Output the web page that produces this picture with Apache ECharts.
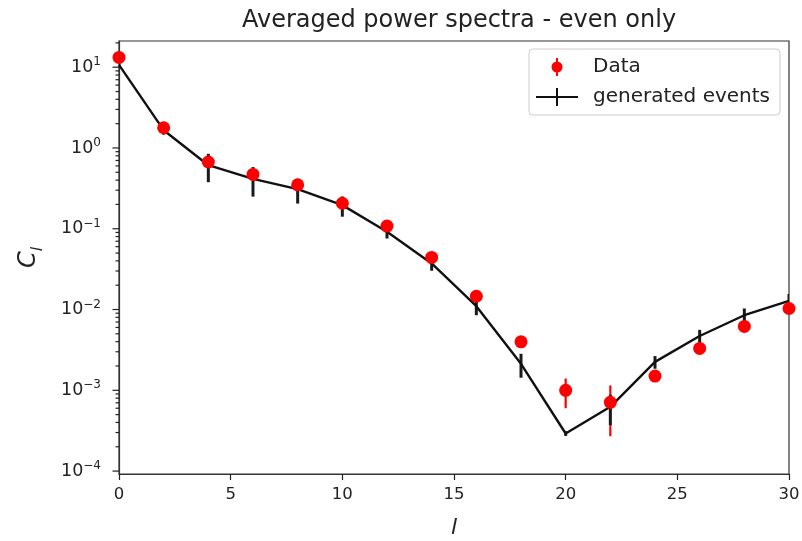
<!DOCTYPE html>
<html><head><meta charset="utf-8">
<script src="https://cdn.jsdelivr.net/npm/echarts@6/dist/echarts.min.js"></script>
<style>html,body{margin:0;padding:0;background:#fff}#c{width:802px;height:541px}</style>
</head><body><div id="c"></div>
<script>
// ---- data ----
const ells = [0, 2, 4, 6, 8, 10, 12, 14, 16, 18, 20, 22, 24, 26, 28, 30];
const dataValues = [13.2, 1.78, 0.67, 0.47, 0.35, 0.207, 0.108, 0.0441, 0.0146, 0.00398, 0.00100, 0.00071, 0.00150, 0.00330, 0.00618, 0.0103];
const dataErrors = [1.2, 0.15, 0.06, 0.04, 0.03, 0.018, 0.009, 0.004, 0.0013, 0.0004, 0.00040, 0.00044, 0.00012, 0.00025, 0.0005, 0.0008];
const genValues = [10.7, 1.66, 0.612, 0.415, 0.31, 0.196, 0.0917, 0.0372, 0.0110, 0.00213, 0.000292, 0.000625, 0.00225, 0.0047, 0.0085, 0.0128];
const genErrors = [0.5, 0.2, 0.235, 0.165, 0.105, 0.055, 0.016, 0.007, 0.0025, 0.0007, 0.00002, 0.000255, 0.0004, 0.0009, 0.0018, 0.0028];
const xTicks = [0, 5, 10, 15, 20, 25, 30];
const yMajorTicks = [1e-4, 1e-3, 1e-2, 1e-1, 1, 10];
const yMantissas = [2, 3, 4, 5, 6, 7, 8, 9];

const Y_MIN = 9.2e-5, Y_MAX = 21.1;
const yMinorTicks = [];
yMajorTicks.forEach(d => yMantissas.forEach(m => { const v = d * m; if (v <= Y_MAX) yMinorTicks.push(v); }));

const FONT = "'DejaVu Sans', sans-serif";
const TXT = '#222';

function errRender(color, width) {
  return function (params, api) {
    const x = api.value(0), lo = api.value(1), hi = api.value(2);
    const p1 = api.coord([x, lo]), p2 = api.coord([x, hi]);
    return { type: 'line', shape: { x1: p1[0], y1: p1[1], x2: p2[0], y2: p2[1] },
      style: { stroke: color, lineWidth: width } };
  };
}
function tickRender(len) {
  return function (params, api) {
    const p = api.coord([0, api.value(0)]);
    return { type: 'line', shape: { x1: p[0] - len, y1: p[1], x2: p[0], y2: p[1] },
      style: { stroke: '#222', lineWidth: 1.2 } };
  };
}

const chart = echarts.init(document.getElementById('c'), null, { renderer: 'canvas' });
chart.setOption({
  backgroundColor: '#fff',
  animation: false,
  title: {
    text: 'Averaged power spectra - even only',
    left: 454, top: 4, textAlign: 'center',
    textStyle: { fontFamily: FONT, fontSize: 24, fontWeight: 'normal', color: TXT }
  },
  legend: {
    left: 529, top: 49, orient: 'vertical',
    itemWidth: 44, itemHeight: 20, itemGap: 10,
    padding: [8, 10, 8, 6],
    backgroundColor: '#fff', borderColor: '#cccccc', borderWidth: 1, borderRadius: 4,
    textStyle: { fontFamily: FONT, fontSize: 20, color: TXT, padding: [0, 0, 0, 9] },
    itemStyle: { borderWidth: 0 },
    data: [
      { name: 'Data', icon: 'path://M0,0L0,0M44,20L44,20M21,1L23,1L23,19L21,19ZM16.5,10A5.5,5.5,0,1,1,27.5,10A5.5,5.5,0,1,1,16.5,10Z' },
      { name: 'generated events', icon: 'path://M0,0L0,0M44,20L44,20M1,9L43,9L43,11L1,11ZM21,1L23,1L23,19L21,19Z' }
    ]
  },
  grid: { left: 119, right: 13, top: 41, bottom: 67, show: true, borderColor: '#333', borderWidth: 1.2,
          containLabel: false, outerBoundsMode: 'none' },
  xAxis: {
    type: 'value', min: 0, max: 30, interval: 5,
    name: 'l', nameLocation: 'middle', nameGap: 43,
    nameTextStyle: { fontFamily: FONT, fontSize: 22, fontStyle: 'italic', color: TXT },
    axisLine: { show: true, lineStyle: { color: '#333', width: 1.2 } },
    axisTick: { show: true, inside: false, length: 6, lineStyle: { color: '#222', width: 1.2 } },
    axisLabel: { fontFamily: FONT, fontSize: 16.5, color: TXT, margin: 12 },
    splitLine: { show: false }
  },
  yAxis: {
    type: 'log', logBase: 10, min: Y_MIN, max: Y_MAX,
    name: '{c|C}{s|l}', nameLocation: 'middle', nameGap: 78, nameRotate: 90,
    nameTextStyle: { fontFamily: FONT, color: TXT,
      rich: { c: { fontFamily: FONT, fontSize: 24, fontStyle: 'italic', color: TXT },
              s: { fontFamily: FONT, fontSize: 16, fontStyle: 'italic', color: TXT, verticalAlign: 'bottom', padding: [0, 0, -5, 0] } } },
    axisLine: { show: true, lineStyle: { color: '#333', width: 1.2 } },
    axisTick: { show: false },
    axisLabel: {
      margin: 18, color: TXT,
      formatter: function (v) {
        const lg = Math.log10(v), e = Math.round(lg);
        if (Math.abs(lg - e) > 1e-6) return '';
        return '{b|10}{s|' + (e < 0 ? '\u2212' + (-e) : e) + '}';
      },
      rich: { b: { fontFamily: FONT, fontSize: 17.5, color: TXT, lineHeight: 22 },
              s: { fontFamily: FONT, fontSize: 12, color: TXT, verticalAlign: 'top' } }
    },
    splitLine: { show: false }
  },
  series: [
    { name: 'yMinorTicks', type: 'custom', silent: true, clip: false,
      data: yMinorTicks.map(v => [v]), encode: { y: 0 }, renderItem: tickRender(3.5), z: 1 },
    { name: 'yMajorTicks', type: 'custom', silent: true, clip: false,
      data: yMajorTicks.map(v => [v]), encode: { y: 0 }, renderItem: tickRender(6.5), z: 1 },
    { name: 'dataErr', type: 'custom', silent: true, clip: true,
      data: ells.map((l, i) => [l, dataValues[i] - dataErrors[i], dataValues[i] + dataErrors[i]]),
      encode: { x: 0, y: [1, 2] }, renderItem: errRender('#ff0000', 2.2), z: 2 },
    { name: 'genErr', type: 'custom', silent: true, clip: true,
      data: ells.map((l, i) => [l, genValues[i] - genErrors[i], genValues[i] + genErrors[i]]),
      encode: { x: 0, y: [1, 2] }, renderItem: errRender('#1a1a1a', 3), z: 2 },
    { name: 'generated events', type: 'line', symbol: 'none', clip: true,
      data: ells.map((l, i) => [l, genValues[i]]),
      lineStyle: { color: '#111', width: 2.4 }, itemStyle: { color: '#111' }, z: 2 },
    { name: 'Data', type: 'scatter', symbol: 'circle', symbolSize: 13, clip: true,
      data: ells.map((l, i) => [l, dataValues[i]]),
      itemStyle: { color: '#ff0000', opacity: 1 }, z: 2 }
  ]
});
</script>
</body></html>
